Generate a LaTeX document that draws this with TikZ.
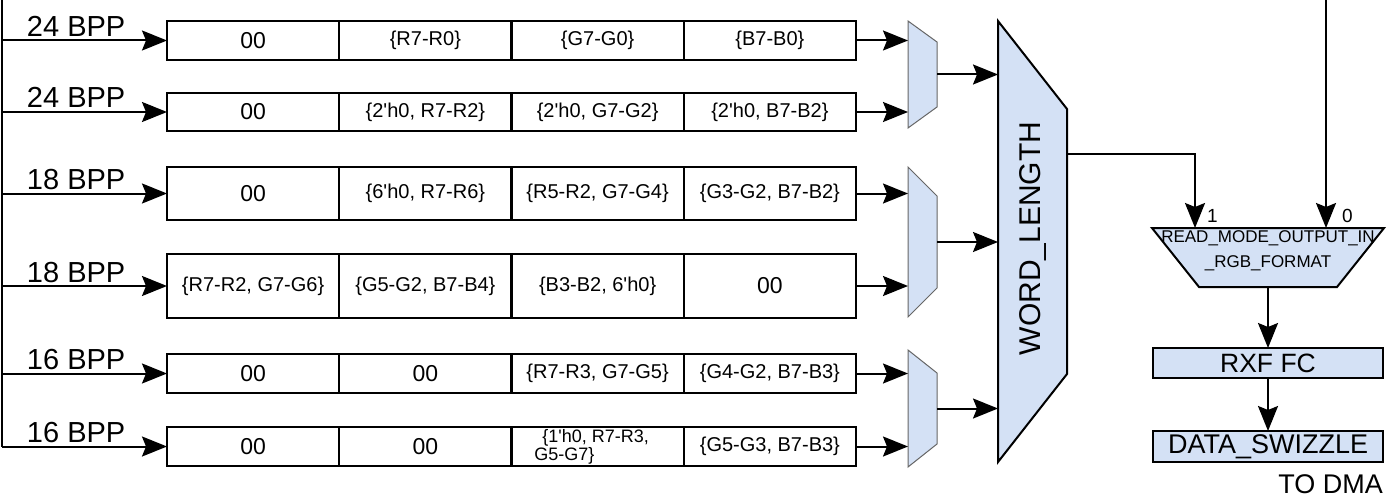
\documentclass[tikz,border=0pt]{standalone}
\usepackage{fontspec}
\setmainfont{Liberation Sans}
\usetikzlibrary{arrows.meta,positioning}
\definecolor{muxblue}{HTML}{D4E1F5}
\newcommand{\apos}{\textquotesingle}
\begin{document}
\begin{tikzpicture}[x=1pt,y=-1pt,
  cell/.style={draw,line width=2.1pt,minimum width=172.25pt,minimum height=#1,
    inner sep=0pt,outer sep=0pt,font=\fontsize{20}{21}\selectfont},
  zero/.style={font=\fontsize{23}{24}\selectfont},
  arr/.style={line width=2pt,-{Stealth[length=25pt,width=20pt,inset=4pt]}},
  bpp/.style={anchor=base west,inner sep=0pt,pos=0,xshift=24pt,yshift=4pt,
    font=\fontsize{29}{30}\selectfont},
  muxbox/.style={minimum width=29pt,inner sep=0pt,outer sep=0pt},
  smallmux/.style={fill=muxblue,draw=black!60,line width=1pt},
  bigmux/.style={fill=muxblue,draw,line width=2pt},
  blk/.style={fill=muxblue,draw,line width=2pt,minimum width=230pt,
    inner sep=0pt,outer sep=0pt}]
  \useasboundingbox (0,0) rectangle (1388,500);
  % packed words, one row per pixel format
  \node[cell=39pt,zero] (r1c1) at (253.125,40.5) {00};
  \node[cell=39pt,right=0pt of r1c1] (r1c2) {\{R7-R0\}};
  \node[cell=39pt,right=0pt of r1c2] (r1c3) {\{G7-G0\}};
  \node[cell=39pt,right=0pt of r1c3] (r1c4) {\{B7-B0\}};
  \node[cell=38pt,zero] (r2c1) at (253.125,112) {00};
  \node[cell=38pt,right=0pt of r2c1] (r2c2) {\{2\apos h0, R7-R2\}};
  \node[cell=38pt,right=0pt of r2c2] (r2c3) {\{2\apos h0, G7-G2\}};
  \node[cell=38pt,right=0pt of r2c3] (r2c4) {\{2\apos h0, B7-B2\}};
  \node[cell=53pt,zero] (r3c1) at (253.125,193.5) {00};
  \node[cell=53pt,right=0pt of r3c1] (r3c2) {\{6\apos h0, R7-R6\}};
  \node[cell=53pt,right=0pt of r3c2] (r3c3) {\{R5-R2, G7-G4\}};
  \node[cell=53pt,right=0pt of r3c3] (r3c4) {\{G3-G2, B7-B2\}};
  \node[cell=64pt] (r4c1) at (253.125,286) {\{R7-R2, G7-G6\}};
  \node[cell=64pt,right=0pt of r4c1] (r4c2) {\{G5-G2, B7-B4\}};
  \node[cell=64pt,right=0pt of r4c2] (r4c3) {\{B3-B2, 6\apos h0\}};
  \node[cell=64pt,zero,right=0pt of r4c3] (r4c4) {00};
  \node[cell=39pt,zero] (r5c1) at (253.125,373.5) {00};
  \node[cell=39pt,zero,right=0pt of r5c1] (r5c2) {00};
  \node[cell=39pt,right=0pt of r5c2] (r5c3) {\{R7-R3, G7-G5\}};
  \node[cell=39pt,right=0pt of r5c3] (r5c4) {\{G4-G2, B7-B3\}};
  \node[cell=39pt,zero] (r6c1) at (253.125,446.5) {00};
  \node[cell=39pt,zero,right=0pt of r6c1] (r6c2) {00};
  \node[cell=39pt,right=0pt of r6c2,align=left,font=\fontsize{18}{18}\selectfont] (r6c3)
    {\hspace*{8pt}\{1\apos h0, R7-R3,\hspace*{12pt}\\G5-G7\}};
  \node[cell=39pt,right=0pt of r6c3] (r6c4) {\{G5-G3, B7-B3\}};
  % input bus
  \coordinate (bus) at (2,0);
  \draw[line width=2pt] (bus) -- (bus |- r6c1.west);
  \foreach \i/\bits in {1/24,2/24,3/18,4/18,5/16,6/16}
    \draw[arr] (bus |- r\i c1.west) -- node[bpp] (lab\i) {\bits\ BPP} (r\i c1.west);
  % 2:1 muxes
  \foreach \n/\cy/\h/\s in {m1/74.5/107/21,m2/242/150/29,m3/408.5/117/23}{
    \node[muxbox,minimum height=\h pt] (\n) at (922.5,\cy) {};
    \draw[smallmux] (\n.north west) -- ([yshift=-\s pt]\n.north east)
      -- ([yshift=\s pt]\n.south east) -- (\n.south west) -- cycle;
  }
  \foreach \i/\m in {1/m1,2/m1,3/m2,4/m2,5/m3,6/m3}
    \draw[arr] (r\i c4.east) -- (r\i c4.east -| \m.west);
  % word length select
  \node[inner sep=0pt,outer sep=0pt,minimum width=69pt,minimum height=441pt] (wl) at (1032.5,241.5) {};
  \draw[bigmux] (wl.north west) -- ([yshift=-88pt]wl.north east)
    -- ([yshift=88pt]wl.south east) -- (wl.south west) -- cycle;
  \node[rotate=90,font=\fontsize{30}{32}\selectfont] (wllab) at ([yshift=3pt]wl.center) {WORD\_LENGTH};
  \foreach \m in {m1,m2,m3}
    \draw[arr] (\m.east) -- (\m.east -| wl.west);
  % rgb format select
  \node[inner sep=0pt,outer sep=0pt,minimum width=232pt,minimum height=59pt] (rd) at (1268,257.5) {};
  \draw[bigmux] (rd.north west) -- (rd.north east)
    -- ([xshift=-47pt]rd.south east) -- ([xshift=47pt]rd.south west) -- cycle;
  \node[align=center,inner sep=0pt,font=\fontsize{17}{25}\selectfont] (rdlab) at ([yshift=6.5pt]rd.center)
    {READ\_MODE\_OUTPUT\_IN\\\_RGB\_FORMAT};
  \coordinate (wlout) at (1067,154);
  \coordinate (in1) at (1195,228);
  \coordinate (top0) at (1326,0);
  \coordinate (in0) at (1326,228);
  \draw[arr] (wlout) -| (in1);
  \draw[arr] (top0) -- (in0);
  \node[anchor=base west,inner sep=0pt,font=\fontsize{19}{20}\selectfont] (sel1) at (1207,222) {1};
  \node[anchor=base west,inner sep=0pt,font=\fontsize{19}{20}\selectfont] (sel0) at (1342,222) {0};
  % output path
  \node[blk,minimum height=30pt,font=\fontsize{26.5}{27}\selectfont] (rxf) at (1268,363) {RXF FC};
  \node[blk,minimum height=31pt,font=\fontsize{27}{28}\selectfont] (ds) at (1268,446.5) {DATA\_SWIZZLE};
  \draw[arr] (rd.south) -- (rxf.north);
  \draw[arr] (rxf.south) -- (ds.north);
  \node[anchor=base east,inner sep=0pt,font=\fontsize{27}{28}\selectfont] (dma) at (1383,493) {TO DMA};
\end{tikzpicture}
\end{document}
